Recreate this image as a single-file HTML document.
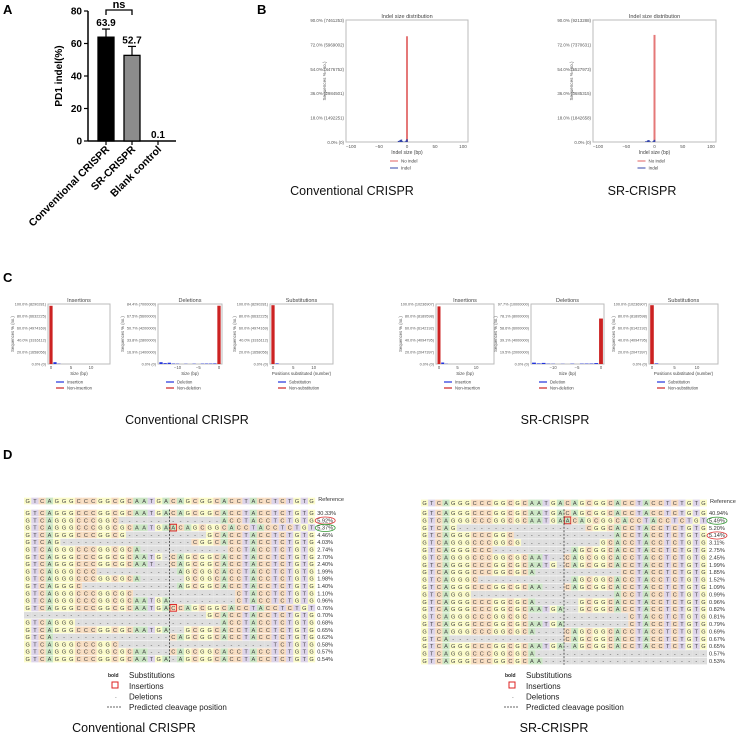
<!DOCTYPE html>
<html><head><meta charset="utf-8"><style>
body{margin:0;background:#fff}
svg{display:block;font-family:"Liberation Sans",sans-serif}
</style></head><body>
<svg id="fig" width="738" height="737" viewBox="0 0 738 737" xmlns="http://www.w3.org/2000/svg"></svg>
<script>
// ---- Panel A data
const aCategories = ["Conventional CRISPR", "SR-CRISPR", "Blank control"];
const aValues = [63.9, 52.7, 0.1];
const aErrors = [5.0, 5.5, 0];
const aTicks = [0, 20, 40, 60, 80];
// ---- Panel B data (indel size distribution, % of reads)
const bSizes = [-15, -12, -10, -8, -3, -1, 0];
const bLeftIndel = [0.8, 1.5, 1.8, 0.6, 0.5, 1.2, 2.0];
const bLeftNoIndel = 78;
const bRightIndel = [0.6, 1.2, 1.4, 0.5, 0.4, 1.0, 1.6];
const bRightNoIndel = 79;
const bLeftTicks = ["0.0% (0)", "18.0% (1492251)", "36.0% (2984501)", "54.0% (4476752)", "72.0% (5969002)", "90.0% (7461253)"];
const bRightTicks = ["0.0% (0)", "18.0% (1842658)", "36.0% (3685315)", "54.0% (5527973)", "72.0% (7370631)", "90.0% (9213288)"];
// ---- Panel C data
const cInsPos = [0, 1, 2];
const cLeftIns = [97, 3, 0.5];
const cRightIns = [96, 2.5, 0.4];
const cDelPos = [-14, -13, -12, -11, -10, -8, -6, -4, -3, -2, -1, 0];
const cLeftDel = [2.5, 1.2, 1.8, 0.6, 0.4, 0.3, 0.4, 0.5, 0.6, 0.6, 0.8, 82];
const cRightDel = [2.2, 1.0, 1.8, 0.5, 0.4, 0.3, 0.5, 0.6, 0.7, 0.8, 1.5, 74];
const cSubPos = [0, 1];
const cLeftSub = [98, 1];
const cRightSub = [98, 1];
const cLeftInsTicks = ["0.0% (0)", "20.0% (1658056)", "40.0% (3316112)", "60.0% (4974169)", "80.0% (6632225)", "100.0% (8290281)"];
const cLeftDelTicks = ["0.0% (0)", "16.9% (1400000)", "33.8% (2800000)", "50.7% (4200000)", "67.5% (5600000)", "84.4% (7000000)"];
const cRightInsTicks = ["0.0% (0)", "20.0% (2047397)", "40.0% (4094795)", "60.0% (6142192)", "80.0% (8189598)", "100.0% (10236907)"];
const cRightDelTicks = ["0.0% (0)", "19.5% (2000000)", "39.1% (4000000)", "58.6% (6000000)", "78.1% (8000000)", "97.7% (10000000)"];
// ---- Panel D data
const refSeq = "GTCAGGGCCCGGCGCAATGACAGCGGCACCTACCTCTGTG";
// [prefix kept, suffix kept] or ["ins", letter]
const dLeftRows = [[40,0],[13,13],["ins","A"],[14,15],[5,17],[16,12],[19,20],[18,20],[10,19],[16,18],[8,19],[15,11],[20,11],["ins","C"],[0,15],[7,13],[20,18],[4,20],[13,6],[17,20],[20,19]];
const dLeftPct = ["30.33%","5.92%","5.37%","4.46%","4.03%","2.74%","2.70%","2.40%","1.99%","1.98%","1.40%","1.10%","0.96%","0.76%","0.70%","0.68%","0.65%","0.62%","0.58%","0.57%","0.54%"];
const dRightRows = [[40,0],["ins","A"],[5,17],[13,13],[14,15],[10,19],[18,20],[19,20],[16,12],[8,19],[17,20],[7,13],[16,18],[20,18],[15,11],[20,11],[16,20],[4,20],[20,19],[16,0],[17,0]];
const dRightPct = ["40.94%","5.49%","5.20%","5.14%","3.11%","2.75%","2.45%","1.99%","1.85%","1.52%","1.09%","0.99%","0.96%","0.82%","0.81%","0.79%","0.69%","0.67%","0.65%","0.57%","0.53%"];

const S = document.getElementById('fig');
const NS = "http://www.w3.org/2000/svg";
function mk(tag, attrs, name, parent) {
  const el = document.createElementNS(NS, tag);
  for (const k in attrs) el.setAttribute(k, attrs[k]);
  
  
  (parent || S).appendChild(el);
  return el;
}
function txt(x, y, s, size, name, extra) {
  const t = mk('text', Object.assign({x: x, y: y, 'font-size': size, fill: '#222'}, extra || {}), name);
  t.textContent = s;
  return t;
}

// Panel labels
txt(3, 14, "A", 13, "panel-label-a", {'font-weight': 'bold', fill: '#000'});
txt(257, 14, "B", 13, "panel-label-b", {'font-weight': 'bold', fill: '#000'});
txt(3, 282, "C", 13, "panel-label-c", {'font-weight': 'bold', fill: '#000'});
txt(3, 459, "D", 13, "panel-label-d", {'font-weight': 'bold', fill: '#000'});

// ---------- Panel A
(function () {
  const ax = 88, y0 = 141, k = 130 / 80;
  const ya = v => y0 - v * k;
  const xc = i => 106 + i * 26;
  mk('line', {x1: ax, y1: ya(80), x2: ax, y2: y0, stroke: '#000', 'stroke-width': 1.5}, 'a-y-axis');
  mk('line', {x1: ax, y1: y0, x2: 176, y2: y0, stroke: '#000', 'stroke-width': 1.5}, 'a-x-axis');
  aTicks.forEach(v => {
    mk('line', {x1: ax - 4, y1: ya(v), x2: ax, y2: ya(v), stroke: '#000', 'stroke-width': 1.2}, 'a-y-tick');
    txt(ax - 6, ya(v) + 3.5, String(v), 10, 'a-y-tick-label', {'text-anchor': 'end', 'font-weight': 'bold', fill: '#000'});
  });
  const t = txt(62, 76, "PD1 indel(%)", 10, 'a-y-axis-title', {'text-anchor': 'middle', 'font-weight': 'bold', fill: '#000', transform: 'rotate(-90 62 76)'});
  aValues.forEach((v, i) => {
    const fill = i === 0 ? '#000' : (i === 1 ? '#8c8c8c' : '#fff');
    if (v > 0.5) mk('rect', {x: xc(i) - 8, y: ya(v), width: 16, height: y0 - ya(v), fill: fill, stroke: '#000', 'stroke-width': 1.3}, 'a-bar-' + i);
    mk('line', {x1: xc(i), y1: y0, x2: xc(i), y2: y0 + 4, stroke: '#000', 'stroke-width': 1.2}, 'a-x-tick');
    if (aErrors[i] > 0) {
      mk('line', {x1: xc(i), y1: ya(v), x2: xc(i), y2: ya(v + aErrors[i]), stroke: '#000', 'stroke-width': 1.2}, 'a-error-bar');
      mk('line', {x1: xc(i) - 4, y1: ya(v + aErrors[i]), x2: xc(i) + 4, y2: ya(v + aErrors[i]), stroke: '#000', 'stroke-width': 1.2}, 'a-error-cap');
    }
    txt(xc(i), ya(v + aErrors[i]) - 3, v.toFixed(1), 10, 'a-value-label', {'text-anchor': 'middle', 'font-weight': 'bold', fill: '#000'});
    txt(xc(i) + 4, 150, aCategories[i], 10.5, 'a-category-label', {'text-anchor': 'end', 'font-weight': 'bold', fill: '#000', transform: `rotate(-45 ${xc(i) + 4} 150)`});
  });
  mk('path', {d: `M${xc(0)} 15 V10 H${xc(1)} V15`, fill: 'none', stroke: '#000', 'stroke-width': 1.3}, 'a-significance-bracket');
  txt(119, 8, "ns", 11, 'a-significance-label', {'text-anchor': 'middle', 'font-weight': 'bold', fill: '#000'});
})();

// ---------- Panel B
function indelChart(x0, x1, yTicks, indel, noIndel, pref) {
  const yt = 20, yb = 142;
  const xs = v => (x0 + x1) / 2 + v * (x1 - x0 - 10) / 200;
  const ys = v => yb - v * (yb - yt) / 90;
  mk('rect', {x: x0, y: yt, width: x1 - x0, height: yb - yt, fill: '#fff', stroke: '#bbb', 'stroke-width': 1}, pref + '-plot-area');
  txt((x0 + x1) / 2, 18, "Indel size distribution", 5.5, pref + '-title', {'text-anchor': 'middle', fill: '#444'});
  yTicks.forEach((s, i) => txt(x0 - 2, ys(i * 18) + 2, s, 4.4, pref + '-y-tick-label', {'text-anchor': 'end', fill: '#555'}));
  [-100, -50, 0, 50, 100].forEach(v => txt(xs(v), 148, v < 0 ? '\u2212' + (-v) : String(v), 4.6, pref + '-x-tick-label', {'text-anchor': 'middle', fill: '#555'}));
  txt(x0 - 20, 81, "Sequences % (no.)", 4.6, pref + '-y-title', {'text-anchor': 'middle', fill: '#555', transform: `rotate(-90 ${x0 - 20} 81)`});
  txt((x0 + x1) / 2, 154, "Indel size (bp)", 5, pref + '-x-title', {'text-anchor': 'middle', fill: '#444'});
  mk('rect', {x: xs(0) - 1, y: ys(noIndel), width: 2, height: yb - ys(noIndel), fill: '#e06060', opacity: 0.85}, pref + '-bar-no-indel');
  bSizes.forEach((s, i) => mk('rect', {x: xs(s) - 0.8, y: ys(indel[i]), width: 1.6, height: yb - ys(indel[i]), fill: '#3344aa'}, pref + '-bar-indel'));
  const lx = (x0 + x1) / 2 - 17;
  mk('line', {x1: lx, y1: 161, x2: lx + 8, y2: 161, stroke: '#e06060', 'stroke-width': 1}, pref + '-legend-no-indel-line');
  txt(lx + 11, 162.5, "No indel", 4.5, pref + '-legend-no-indel', {fill: '#444'});
  mk('line', {x1: lx, y1: 168, x2: lx + 8, y2: 168, stroke: '#3344aa', 'stroke-width': 1}, pref + '-legend-indel-line');
  txt(lx + 11, 169.5, "Indel", 4.5, pref + '-legend-indel', {fill: '#444'});
}
indelChart(346, 468, bLeftTicks, bLeftIndel, bLeftNoIndel, 'b-left');
indelChart(593, 716, bRightTicks, bRightIndel, bRightNoIndel, 'b-right');
txt(352, 195, "Conventional CRISPR", 12.5, 'b-left-caption', {'text-anchor': 'middle', fill: '#111'});
txt(642, 195, "SR-CRISPR", 12.5, 'b-right-caption', {'text-anchor': 'middle', fill: '#111'});

// ---------- Panel C
function cChart(x0, x1, title, ticks, pos, vals, xmin, xmax, xticks, xlabel, legA, legB, yMax, pref) {
  const yt = 304, yb = 364;
  const xs = v => x0 + 3 + (v - xmin) * (x1 - x0 - 6) / (xmax - xmin);
  const ys = v => yb - v * (yb - yt) / yMax;
  mk('rect', {x: x0, y: yt, width: x1 - x0, height: yb - yt, fill: '#fff', stroke: '#bbb', 'stroke-width': 1}, pref + '-plot-area');
  txt((x0 + x1) / 2, 302, title, 5.5, pref + '-title', {'text-anchor': 'middle', fill: '#444'});
  ticks.forEach((s, i) => txt(x0 - 2, yb - i * (yb - yt) / 5 + 1.5, s, 3.8, pref + '-y-tick-label', {'text-anchor': 'end', fill: '#555'}));
  txt(x0 - 34, 334, "Sequences % (no.)", 4.2, pref + '-y-title', {'text-anchor': 'middle', fill: '#555', transform: `rotate(-90 ${x0 - 34} 334)`});
  xticks.forEach(v => txt(xs(v), 369, v < 0 ? '\u2212' + (-v) : String(v), 4.2, pref + '-x-tick-label', {'text-anchor': 'middle', fill: '#555'}));
  txt((x0 + x1) / 2, 375, xlabel, 4.4, pref + '-x-title', {'text-anchor': 'middle', fill: '#444'});
  const bw = Math.max(2.2, (x1 - x0 - 6) / (xmax - xmin) * 0.8);
  pos.forEach((p, i) => {
    const red = (p === 0);
    mk('rect', {x: xs(p) - bw / 2, y: ys(vals[i]), width: bw, height: yb - ys(vals[i]), fill: red ? '#cc2222' : '#2233dd'}, pref + (red ? '-bar-none' : '-bar-event'));
  });
  const lx = x0 + 8;
  mk('line', {x1: lx, y1: 382, x2: lx + 8, y2: 382, stroke: '#2233dd', 'stroke-width': 1.2}, pref + '-legend-event-line');
  txt(lx + 11, 383.5, legA, 4.2, pref + '-legend-event', {fill: '#444'});
  mk('line', {x1: lx, y1: 388, x2: lx + 8, y2: 388, stroke: '#cc2222', 'stroke-width': 1.2}, pref + '-legend-none-line');
  txt(lx + 11, 389.5, legB, 4.2, pref + '-legend-none', {fill: '#444'});
}
cChart(48, 110, "Insertions", cLeftInsTicks, cInsPos, cLeftIns, 0, 14, [0, 5, 10], "Size (bp)", "Insertion", "Non-insertion", 100, 'c-left-ins');
cChart(158, 222, "Deletions", cLeftDelTicks, cDelPos, cLeftDel, -14, 0, [-10, -5, 0], "Size (bp)", "Deletion", "Non-deletion", 84.4, 'c-left-del');
cChart(270, 333, "Substitutions", cLeftInsTicks, cSubPos, cLeftSub, 0, 14, [0, 5, 10], "Positions substituted (number)", "Substitution", "Non-substitution", 100, 'c-left-sub');
cChart(436, 494, "Insertions", cRightInsTicks, cInsPos, cRightIns, 0, 14, [0, 5, 10], "Size (bp)", "Insertion", "Non-insertion", 100, 'c-right-ins');
cChart(531, 604, "Deletions", cRightDelTicks, cDelPos, cRightDel, -14, 0, [-10, -5, 0], "Size (bp)", "Deletion", "Non-deletion", 97.7, 'c-right-del');
cChart(649, 718, "Substitutions", cRightInsTicks, cSubPos, cRightSub, 0, 14, [0, 5, 10], "Positions substituted (number)", "Substitution", "Non-substitution", 100, 'c-right-sub');
txt(187, 424, "Conventional CRISPR", 12.5, 'c-left-caption', {'text-anchor': 'middle', fill: '#111'});
txt(555, 424, "SR-CRISPR", 12.5, 'c-right-caption', {'text-anchor': 'middle', fill: '#111'});

// ---------- Panel D
const baseCol = {A: '#cbe6c4', C: '#f7dcc0', G: '#fbfbc9', T: '#ddd4ea', '-': '#dedede'};
function alignment(x0, cw, rows, pcts, refY, y0, rh, ellipses, pref) {
  const g = mk('g', {}, pref + '-alignment');
  function cell(x, y, ch, name, boxed) {
    mk('rect', {x: x, y: y - rh / 2 + 0.3, width: cw, height: rh - 0.6, fill: baseCol[ch]}, name, g);
    const t = mk('text', {x: x + cw / 2, y: y + 2, 'font-size': 5.6, 'text-anchor': 'middle', fill: '#444'}, name + '-letter', g);
    t.textContent = ch === '-' ? '-' : ch;
    if (boxed) mk('rect', {x: x + 0.3, y: y - rh / 2 + 0.3, width: cw - 0.6, height: rh - 0.6, fill: 'none', stroke: '#d22', 'stroke-width': 1}, name + '-insertion-box', g);
  }
  for (let i = 0; i < 40; i++) cell(x0 + i * cw, refY, refSeq[i], pref + '-reference-base');
  txt(x0 + 40 * cw + 3, refY + 0, "Reference", 5.6, pref + '-reference-label', {fill: '#333'});
  rows.forEach((r, j) => {
    const y = y0 + j * rh;
    let seq;
    if (r[0] === 'ins') seq = refSeq.slice(0, 20) + r[1] + refSeq.slice(20, 39);
    else {
      const pre = r[0], suf = r[1];
      seq = pre + suf >= 40 ? refSeq : refSeq.slice(0, pre) + '-'.repeat(40 - pre - suf) + refSeq.slice(40 - suf);
    }
    for (let i = 0; i < 40; i++) cell(x0 + i * cw, y, seq[i], pref + '-row-' + j + '-base', r[0] === 'ins' && i === 20);
    txt(x0 + 40 * cw + 2, y + 2, pcts[j], 5.6, pref + '-row-percent', {fill: '#333'});
  });
  const cx = x0 + 20 * cw;
  mk('line', {x1: cx, y1: y0 - rh / 2, x2: cx, y2: y0 + (rows.length - 0.5) * rh, stroke: '#333', 'stroke-width': 0.8, 'stroke-dasharray': '2,1.5'}, pref + '-cleavage-line', g);
  ellipses.forEach(e => mk('ellipse', {cx: x0 + 40 * cw + 10, cy: y0 + e[0] * rh + 0.3, rx: 10, ry: 3.6, fill: 'none', stroke: e[1], 'stroke-width': 0.8}, pref + '-highlight-ellipse', g));
}
alignment(24, 7.28, dLeftRows, dLeftPct, 501, 513, 7.3, [[1, '#d33'], [2, '#393']], 'd-left');
alignment(421, 7.15, dRightRows, dRightPct, 503, 513, 7.4, [[1, '#393'], [3, '#d33']], 'd-right');

function dLegend(x, pref) {
  txt(x, 677, "bold", 5, pref + '-legend-bold-key', {'font-weight': 'bold', fill: '#222'});
  txt(x + 21, 678, "Substitutions", 8, pref + '-legend-substitutions', {fill: '#222'});
  mk('rect', {x: x + 4, y: 682, width: 6, height: 6, fill: 'none', stroke: '#d22', 'stroke-width': 1}, pref + '-legend-insertion-key');
  txt(x + 21, 689, "Insertions", 8, pref + '-legend-insertions', {fill: '#222'});
  txt(x + 7, 699, "-", 5, pref + '-legend-deletion-key', {fill: '#666'});
  txt(x + 21, 699.5, "Deletions", 8, pref + '-legend-deletions', {fill: '#222'});
  mk('line', {x1: x - 1, y1: 707, x2: x + 13, y2: 707, stroke: '#333', 'stroke-width': 0.8, 'stroke-dasharray': '2,1'}, pref + '-legend-cleavage-key');
  txt(x + 21, 710, "Predicted cleavage position", 8, pref + '-legend-cleavage', {fill: '#222'});
}
dLegend(108, 'd-left');
dLegend(505, 'd-right');
txt(134, 732, "Conventional CRISPR", 12.5, 'd-left-caption', {'text-anchor': 'middle', fill: '#111'});
txt(554, 732, "SR-CRISPR", 12.5, 'd-right-caption', {'text-anchor': 'middle', fill: '#111'});
</script>
</body></html>
